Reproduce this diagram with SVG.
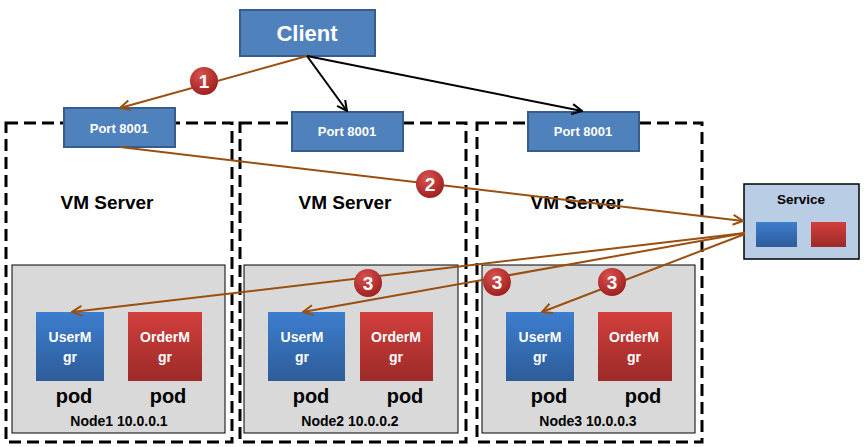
<svg xmlns="http://www.w3.org/2000/svg" width="866" height="447" viewBox="0 0 866 447">
<style>
text{font-family:"Liberation Sans",Arial,sans-serif;font-weight:bold;text-anchor:middle}
.blue{fill:#4f81bd;stroke:#385d8a;stroke-width:2}
.vm{fill:none;stroke:#000;stroke-width:3;stroke-dasharray:12 6}
.node{fill:#d9d9d9;stroke:#000;stroke-width:1}
.wt{fill:#fff}
.bk{fill:#000}
.br{fill:none;stroke:#9b4f0f;stroke-width:2;marker-end:url(#ab)}
.bl{fill:none;stroke:#000;stroke-width:2;marker-end:url(#ak)}
</style>
<defs>
<marker id="ab" viewBox="0 0 12 12" refX="11" refY="6" markerWidth="12" markerHeight="12" markerUnits="userSpaceOnUse" orient="auto"><path d="M1,1 L11,6 L1,11" fill="none" stroke="#9b4f0f" stroke-width="2"/></marker>
<marker id="ak" viewBox="0 0 12 12" refX="11" refY="6" markerWidth="12" markerHeight="12" markerUnits="userSpaceOnUse" orient="auto"><path d="M1,1 L11,6 L1,11" fill="none" stroke="#000" stroke-width="2"/></marker>
<linearGradient id="gb" x1="0" y1="0" x2="0" y2="1"><stop offset="0" stop-color="#3d7ecf"/><stop offset="1" stop-color="#2d5c99"/></linearGradient>
<linearGradient id="gr" x1="0" y1="0" x2="0" y2="1"><stop offset="0" stop-color="#d23f3c"/><stop offset="1" stop-color="#9c2a28"/></linearGradient>
<radialGradient id="gc" cx="0.4" cy="0.3" r="0.7"><stop offset="0" stop-color="#d9534f"/><stop offset="1" stop-color="#a02020"/></radialGradient>
</defs>

<g id="vm1"><rect class="vm" x="6" y="123" width="226" height="319"/><text class="bk" x="107" y="209" font-size="19">VM Server</text></g>
<g id="vm2"><rect class="vm" x="240" y="123" width="226" height="319"/><text class="bk" x="345" y="209" font-size="19">VM Server</text></g>
<g id="vm3"><rect class="vm" x="477" y="123" width="225" height="319"/><text class="bk" x="577" y="209" font-size="19">VM Server</text></g>

<g id="node1"><rect class="node" x="12" y="265" width="213" height="168"/>
<rect x="36" y="312" width="68" height="69" fill="url(#gb)"/><text class="wt" x="70" y="342" font-size="14">UserM</text><text class="wt" x="70" y="362" font-size="14">gr</text>
<rect x="128" y="312" width="74" height="69" fill="url(#gr)"/><text class="wt" x="165" y="342" font-size="14">OrderM</text><text class="wt" x="165" y="362" font-size="14">gr</text>
<text class="bk" x="74" y="403" font-size="20">pod</text><text class="bk" x="168" y="403" font-size="20">pod</text>
<text class="bk" x="119" y="426" font-size="14">Node1 10.0.0.1</text></g>
<g id="node2"><rect class="node" x="244" y="265" width="214" height="168"/>
<rect x="268" y="312" width="77" height="69" fill="url(#gb)"/><text class="wt" x="302" y="342" font-size="14">UserM</text><text class="wt" x="302" y="362" font-size="14">gr</text>
<rect x="360" y="312" width="73" height="69" fill="url(#gr)"/><text class="wt" x="396" y="342" font-size="14">OrderM</text><text class="wt" x="396" y="362" font-size="14">gr</text>
<text class="bk" x="311" y="403" font-size="20">pod</text><text class="bk" x="405" y="403" font-size="20">pod</text>
<text class="bk" x="350" y="426" font-size="14">Node2 10.0.0.2</text></g>
<g id="node3"><rect class="node" x="482" y="265" width="213" height="168"/>
<rect x="506" y="312" width="68" height="69" fill="url(#gb)"/><text class="wt" x="540" y="342" font-size="14">UserM</text><text class="wt" x="540" y="362" font-size="14">gr</text>
<rect x="598" y="312" width="74" height="69" fill="url(#gr)"/><text class="wt" x="634" y="342" font-size="14">OrderM</text><text class="wt" x="634" y="362" font-size="14">gr</text>
<text class="bk" x="549" y="403" font-size="20">pod</text><text class="bk" x="643" y="403" font-size="20">pod</text>
<text class="bk" x="588" y="426" font-size="14">Node3 10.0.0.3</text></g>

<g id="client"><rect class="blue" x="240" y="10" width="135" height="46"/><text class="wt" x="307" y="41" font-size="22">Client</text></g>
<g id="port1"><rect class="blue" x="64" y="108" width="111" height="39"/><text class="wt" x="119" y="133" font-size="13">Port 8001</text></g>
<g id="port2"><rect class="blue" x="292" y="112" width="111" height="39"/><text class="wt" x="347" y="136" font-size="13">Port 8001</text></g>
<g id="port3"><rect class="blue" x="528" y="112" width="111" height="39"/><text class="wt" x="583" y="136" font-size="13">Port 8001</text></g>

<g id="service"><rect x="744" y="184" width="115" height="75" fill="#b9cde5" stroke="#000" stroke-width="1.5"/>
<text class="bk" x="801" y="204" font-size="13.5">Service</text>
<rect x="756" y="222" width="41" height="25" fill="url(#gb)"/><rect x="811" y="222" width="35" height="25" fill="url(#gr)"/></g>

<g id="connectors">
<path class="br" d="M307,56 L120,108"/>
<path class="bl" d="M307,56 L347,111"/>
<path class="bl" d="M307,56 L582,111"/>
<path class="br" d="M120,147 L743,221"/>
<path class="br" d="M745,233 L72,312"/>
<path class="br" d="M745,233 L303,312"/>
<path class="br" d="M745,234 L542,312"/>
</g>

<g id="badges">
<g><circle cx="204" cy="81" r="14" fill="url(#gc)"/><text class="wt" x="204" y="88" font-size="19">1</text></g>
<g><circle cx="430" cy="184" r="14" fill="url(#gc)"/><text class="wt" x="430" y="191" font-size="19">2</text></g>
<g><circle cx="368" cy="283" r="14" fill="url(#gc)"/><text class="wt" x="368" y="290" font-size="19">3</text></g>
<g><circle cx="497" cy="282" r="14" fill="url(#gc)"/><text class="wt" x="497" y="289" font-size="19">3</text></g>
<g><circle cx="612" cy="282" r="14" fill="url(#gc)"/><text class="wt" x="612" y="289" font-size="19">3</text></g>
</g>
</svg>
